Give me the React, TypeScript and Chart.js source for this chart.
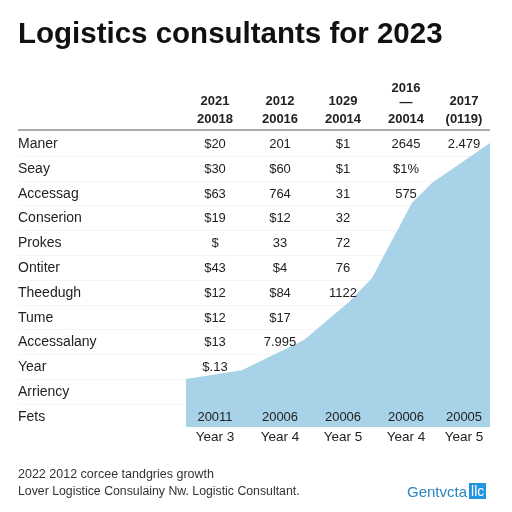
import React, { useEffect, useRef } from "react";
import { Chart, registerables } from "chart.js";

Chart.register(...registerables);

const title = "Logistics consultants for 2023";
const headerTop = ["2021", "2012", "1029", "2016\n—", "2017"];
const headerBottom = ["20018", "20016", "20014", "20014", "(0119)"];
const rowLabels = [
  "Maner", "Seay", "Accessag", "Conserion", "Prokes", "Ontiter",
  "Theedugh", "Tume", "Accessalany", "Year", "Arriency", "Fets",
];
const cellValues: string[][] = [
  ["$20", "201", "$1", "2645", "2.479"],
  ["$30", "$60", "$1", "$1%", ""],
  ["$63", "764", "31", "575", ""],
  ["$19", "$12", "32", "", ""],
  ["$", "33", "72", "", ""],
  ["$43", "$4", "76", "", ""],
  ["$12", "$84", "1122", "", ""],
  ["$12", "$17", "", "", ""],
  ["$13", "7.995", "", "", ""],
  ["$.13", "", "", "", ""],
  ["", "", "", "", ""],
  ["20011", "20006", "20006", "20006", "20005"],
];
const yearLabels = ["Year 3", "Year 4", "Year 5", "Year 4", "Year 5"];
const areaX = [0, 18.4, 38.8, 53.6, 61.2, 74.3, 80.9, 100];
const areaY = [16.9, 20, 30.6, 44, 52.5, 78.9, 85.9, 100];
const footer1 = "2022 2012 corcee tandgries growth";
const footer2 = "Lover Logistice Consulainy Nw. Logistic Consultant.";
const brand = "Gentvcta";
const brandTag = "llc";

const colX = [215, 280, 343, 406, 464];
const rowY0 = 143;
const rowStep = 24.8;
const FONT = '"Liberation Sans", Arial, sans-serif';

export default function App() {
  const ref = useRef<HTMLCanvasElement>(null);
  useEffect(() => {
    const chart = new Chart(ref.current!, {
      type: "line",
      data: {
        datasets: [
          {
            data: areaX.map((x, i) => ({ x, y: areaY[i] })),
            fill: "origin",
            backgroundColor: "#a7d2e8",
            borderColor: "#a7d2e8",
            borderWidth: 0,
            pointRadius: 0,
            tension: 0,
          },
        ],
      },
      options: {
        animation: false,
        responsive: false,
        layout: { padding: { left: 186, right: 22, top: 143, bottom: 85 } },
        plugins: { legend: { display: false }, tooltip: { enabled: false } },
        scales: {
          x: { type: "linear", min: 0, max: 100, display: false },
          y: { min: 0, max: 100, display: false },
        },
      },
    });
    return () => chart.destroy();
  }, []);

  const abs = (x: number, y: number, extra: React.CSSProperties = {}): React.CSSProperties => ({
    position: "absolute",
    left: x,
    top: y,
    whiteSpace: "pre",
    lineHeight: 1,
    ...extra,
  });

  return (
    <div style={{ position: "fixed", left: 0, top: 0, width: 512, height: 512, background: "#fff", fontFamily: FONT, overflow: "hidden" }}>
      {rowLabels.map((_, i) => (
        <div key={"band" + i} style={{ position: "absolute", left: 18, top: rowY0 + i * rowStep - 12, width: 472, height: 1, background: i === 0 ? "transparent" : "#f5f5f5" }} />
      ))}
      <canvas ref={ref} width={512} height={512} style={{ position: "absolute", left: 0, top: 0 }} />
      <div style={abs(18, 33, { fontSize: 29.5, fontWeight: "bold", color: "#111", transform: "translateY(-50%)" })}>{title}</div>
      {headerTop.map((t, i) => {
        const parts = t.split("\n");
        return (
          <React.Fragment key={"h" + i}>
            {parts.length > 1 ? (
              <>
                <div style={abs(colX[i], 87, { fontSize: 13, fontWeight: "bold", color: "#222", transform: "translate(-50%,-50%)" })}>{parts[0]}</div>
                <div style={abs(colX[i], 101, { fontSize: 13, fontWeight: "bold", color: "#222", transform: "translate(-50%,-50%)" })}>{parts[1]}</div>
              </>
            ) : (
              <div style={abs(colX[i], 100, { fontSize: 13, fontWeight: "bold", color: "#222", transform: "translate(-50%,-50%)" })}>{t}</div>
            )}
            <div style={abs(colX[i], 118, { fontSize: 13, fontWeight: "bold", color: "#222", transform: "translate(-50%,-50%)" })}>{headerBottom[i]}</div>
          </React.Fragment>
        );
      })}
      <div style={{ position: "absolute", left: 18, top: 129, width: 472, height: 2, background: "#aaa" }} />
      {rowLabels.map((l, i) => (
        <div key={"l" + i} style={abs(18, rowY0 + i * rowStep, { fontSize: 14, color: "#222", transform: "translateY(-50%)" })}>{l}</div>
      ))}
      {cellValues.map((row, i) =>
        row.map((v, j) =>
          v ? (
            <div key={"c" + i + "-" + j} style={abs(colX[j], rowY0 + i * rowStep, { fontSize: 13, color: "#222", transform: "translate(-50%,-50%)" })}>{v}</div>
          ) : null
        )
      )}
      {yearLabels.map((y, j) => (
        <div key={"y" + j} style={abs(colX[j], 437, { fontSize: 13.5, color: "#222", transform: "translate(-50%,-50%)" })}>{y}</div>
      ))}
      <div style={abs(18, 474, { fontSize: 12.5, color: "#333", transform: "translateY(-50%)" })}>{footer1}</div>
      <div style={abs(18, 491, { fontSize: 12.3, color: "#333", transform: "translateY(-50%)" })}>{footer2}</div>
      <div style={abs(407, 491, { fontSize: 15, color: "#2a86c0", transform: "translateY(-50%)", display: "flex", alignItems: "center" })}>
        {brand}
        <span style={{ background: "#2196e0", color: "#fff", marginLeft: 2, padding: "1px 2px", fontSize: 14 }}>{brandTag}</span>
      </div>
    </div>
  );
}
